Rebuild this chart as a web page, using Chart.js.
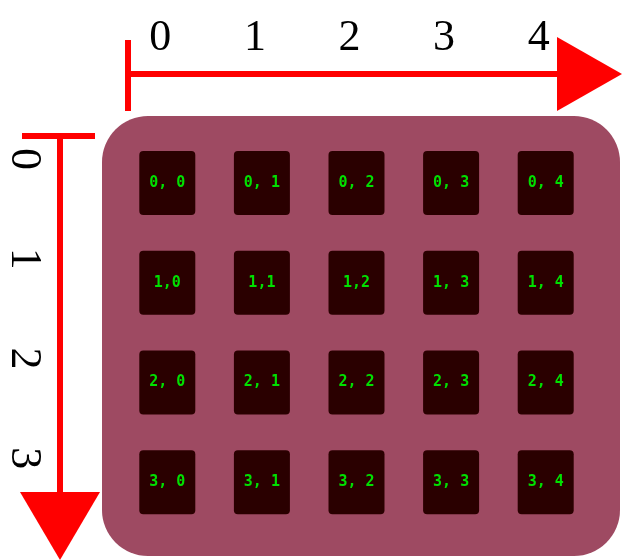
<!DOCTYPE html>
<html>
<head>
<meta charset="utf-8">
<script src="https://cdn.jsdelivr.net/npm/chart.js@4"></script>
<style>
  html, body { margin: 0; padding: 0; background: #fff; }
  #wrap { width: 622px; height: 560px; }
</style>
</head>
<body>
<div id="wrap"><canvas id="grid"></canvas></div>
<script>
// 数据：列、行、单元格标签
const colTicks = ['0', '1', '2', '3', '4'];
const rowTicks = ['0', '1', '2', '3'];
const cellLabels = [
    ['0, 0', '0, 1', '0, 2', '0, 3', '0, 4'],
    ['1,0', '1,1', '1,2', '1, 3', '1, 4'],
    ['2, 0', '2, 1', '2, 2', '2, 3', '2, 4'],
    ['3, 0', '3, 1', '3, 2', '3, 3', '3, 4']
];

const points = [];
cellLabels.forEach((row, r) => row.forEach((txt, c) => points.push({ x: c, y: r, label: txt })));

function roundRect(ctx, x, y, w, h, rad) {
    ctx.beginPath();
    ctx.moveTo(x + rad, y);
    ctx.arcTo(x + w, y, x + w, y + h, rad);
    ctx.arcTo(x + w, y + h, x, y + h, rad);
    ctx.arcTo(x, y + h, x, y, rad);
    ctx.arcTo(x, y, x + w, y, rad);
    ctx.closePath();
}

// 背景与箭头
const decoPlugin = {
    id: 'deco',
    beforeDatasetsDraw(chart) {
        const ctx = chart.ctx;
        const xs = chart.scales.x, ys = chart.scales.y;
        ctx.save();
        ctx.fillStyle = '#9e4a62';
        roundRect(ctx, 102, 116, 518, 440, 46);
        ctx.fill();

        ctx.fillStyle = '#ff0000';
        // 顶部箭头
        ctx.fillRect(125, 40, 6, 71);
        ctx.fillRect(128, 71, 432, 6);
        ctx.beginPath();
        ctx.moveTo(557, 37); ctx.lineTo(622, 74); ctx.lineTo(557, 111); ctx.closePath();
        ctx.fill();
        // 左侧箭头
        ctx.fillRect(22, 133, 73, 6);
        ctx.fillRect(57, 136, 6, 360);
        ctx.beginPath();
        ctx.moveTo(20, 492); ctx.lineTo(100, 492); ctx.lineTo(60, 560); ctx.closePath();
        ctx.fill();

        // 刻度数字
        ctx.fillStyle = '#000';
        ctx.font = '44px "Liberation Serif", serif';
        ctx.textAlign = 'center';
        ctx.textBaseline = 'middle';
        colTicks.forEach((t, i) => ctx.fillText(t, xs.getPixelForValue(i) - 7, 38));
        rowTicks.forEach((t, i) => {
            ctx.save();
            ctx.translate(24, ys.getPixelForValue(i) - 24);
            ctx.rotate(Math.PI / 2);
            ctx.fillText(t, 0, 0);
            ctx.restore();
        });
        ctx.restore();
    },
    afterDatasetsDraw(chart) {
        const ctx = chart.ctx;
        const xs = chart.scales.x, ys = chart.scales.y;
        ctx.save();
        points.forEach(p => {
            const cx = xs.getPixelForValue(p.x), cy = ys.getPixelForValue(p.y);
            ctx.fillStyle = '#2a0000';
            roundRect(ctx, cx - 28, cy - 32, 56, 64, 4);
            ctx.fill();
            ctx.fillStyle = '#00e000';
            ctx.font = 'bold 15px "DejaVu Sans Mono", monospace';
            ctx.textAlign = 'center';
            ctx.textBaseline = 'middle';
            ctx.fillText(p.label, cx, cy);
        });
        ctx.restore();
    }
};

new Chart(document.getElementById('grid'), {
    type: 'scatter',
    data: { datasets: [{ data: points, pointRadius: 0, pointHoverRadius: 0 }] },
    options: {
        responsive: true,
        maintainAspectRatio: false,
        animation: false,
        events: [],
        layout: { padding: { left: 120, right: 29, top: 133, bottom: 28 } },
        plugins: { legend: { display: false }, tooltip: { enabled: false } },
        scales: {
            x: { display: false, min: -0.5, max: 4.5 },
            y: { display: false, min: -0.5, max: 3.5, reverse: true }
        }
    },
    plugins: [decoPlugin]
});
</script>
</body>
</html>
